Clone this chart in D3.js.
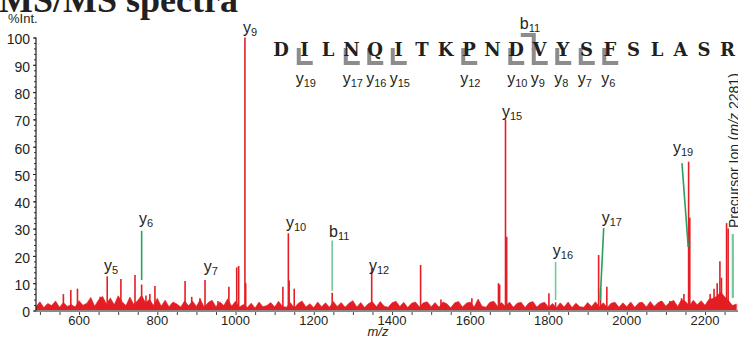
<!DOCTYPE html>
<html lang="en">
<head>
  <meta charset="UTF-8">
  <title>MS/MS spectra</title>
  <script src="https://d3js.org/d3.v7.min.js"></script>
  <style>
    html, body {
      margin: 0;
      padding: 0;
      background: #fff;
      overflow: hidden;
    }
    text {
      font-family: "Liberation Sans", Arial, sans-serif;
      fill: #231f20;
    }
  </style>
</head>
<body>
  <svg id="chart" width="738" height="337"></svg>
  <script>
    // ---- data ----
    const sequence = 'DILNQITKPNDVYSFSLASR'.split('');
    const yIonSites = [19, 17, 16, 15, 12, 10, 9, 8, 7, 6];
    const bIonSites = [11];

    const xTicks = [600, 800, 1000, 1200, 1400, 1600, 1800, 2000, 2200];
    const yTicks = [0, 10, 20, 30, 40, 50, 60, 70, 80, 90, 100];

    // resolved peaks (m/z, % intensity)
    const peakMz = [560, 579, 596, 654, 672, 707, 743, 760, 771, 781, 794, 871, 888, 909, 922, 955,
      983, 1003, 1008, 1024, 1026, 1121, 1135, 1137, 1150, 1247, 1348, 1473, 1525, 1604, 1672, 1675,
      1690, 1693, 1801, 1818, 1928, 1933, 1949, 2034, 2087, 2110, 2140, 2146, 2158, 2161, 2213, 2223,
      2231, 2238, 2242, 2255, 2259, 2272];
    const peakInt = [6, 7.5, 8, 5, 12.5, 11.5, 13, 9.5, 5.5, 6, 9, 10.8, 5, 4.5, 11.2, 3.5,
      8.7, 15.8, 16.3, 100, 10, 8.7, 28.3, 11, 8, 6.5, 15.5, 16.7, 4, 4.5, 10, 9.5,
      70, 27, 6.3, 3, 20.3, 8, 8.7, 3, 3.5, 3.5, 4.5, 6, 54.5, 34, 6, 8,
      10, 18, 12, 32, 30, 2];

    // noise floor, every 10 m/z from 490
    const noiseStart = 490;
    const noiseStep = 10;
    const noiseInt = [
      1.4, 3.2, 1.1, 2.6, 1.8, 3.5, 1.2, 2.9, 1.5, 2.2,
      1.3, 3.6, 1.9, 2.7, 4.8, 1.6, 3.9, 5.2, 2.4, 4.6,
      2.1, 5.4, 3.2, 1.8, 4.9, 2.2, 3.7, 5.6, 2.8, 4.1,
      1.9, 4.5, 1.6, 3.8, 1.4, 3.1, 2.4, 1.3, 3.6, 1.7,
      3.5, 1.5, 4.1, 1.2, 2.9, 3.8, 1.4, 3.2, 1.8, 4.3,
      1.6, 3.4, 1.3, 2.2, 1.1, 2.7, 0.9, 3.1, 1.4, 1.8,
      2.9, 1.3, 3.4, 1.5, 1.2, 2.9, 1, 2.6, 3.5, 1.3,
      2.5, 1.1, 3.1, 1.4, 2.8, 1.2, 3.3, 1.5, 2.9, 1.2,
      2.7, 3.6, 1.3, 2.9, 1.1, 2.6, 3.2, 1.4, 3.3, 1.6,
      1.2, 2.8, 3.4, 1.5, 3, 1.1, 2.7, 3.1, 1.3, 2.8,
      3.2, 1.4, 2.9, 1.2, 3.1, 2.5, 1, 2.8, 3.3, 1.3,
      2.7, 3.1, 1.3, 4.2, 1.6, 1.2, 3, 3.4, 1.5, 2.9,
      1.4, 3.1, 1.2, 2.7, 3, 1.1, 2.8, 3.3, 1.3, 2.6,
      3, 1.2, 2.6, 1, 2.8, 1.3, 3.1, 1.1, 2.7, 1.4,
      1.2, 2.9, 1.5, 3.2, 1.3, 2.8, 1.1, 2.7, 3, 1.2,
      2.8, 1.4, 3.1, 1.2, 2.7, 3, 1.3, 3.3, 1.5, 2.9,
      3.5, 1.6, 3.1, 3.7, 1.5, 4, 3.3, 1.7, 3.8, 2.1,
      3.6, 1.9, 4.1, 4.4, 5.2, 6.8, 5, 3.7, 1.8, 2.4
    ];

    // annotated fragment ions
    const ionNames = ['y5', 'y6', 'y7', 'y9', 'y10', 'b11', 'y12', 'y15', 'y16', 'y17', 'y19'];
    const ionMz = [672, 760, 922, 1024, 1135, 1247, 1348, 1690, 1818, 1933, 2158];
    const precursorMz = 2281;

    // ---- layout ----
    const svg = d3.select('#chart');
    const x = d3.scaleLinear().domain([490, 2285]).range([36, 738.3]);
    const y = d3.scaleLinear().domain([0, 100]).range([310.5, 37.5]);
    const red = '#e31e24';
    const green = '#2c9f5e';
    const lightGreen = '#72c99c';

    // label anchors and callout lines, in data units
    const callouts = {
      y5: {lx: 664, ly: 14.6},
      y6: {lx: 753, ly: 31.7, line: [760, 29.2, 760, 11.2], c: green},
      y7: {lx: 919, ly: 14.1},
      y9: {lx: 1019, ly: 101.6},
      y10: {lx: 1129, ly: 30.2},
      b11: {lx: 1239, ly: 26.9, line: [1247, 25.6, 1247, 7.2], c: lightGreen},
      y12: {lx: 1341, ly: 14.5},
      y15: {lx: 1681, ly: 71},
      y16: {lx: 1811, ly: 20, line: [1818, 17.8, 1818, 3.8], c: lightGreen},
      y17: {lx: 1936, ly: 32, line: [1941, 30.2, 1932, 3.8], c: green},
      y19: {lx: 2118, ly: 57.7, line: [2141, 54, 2157, 23.3], c: green}
    };

    // title (partly cut off at the top)
    svg.append('text')
      .attr('x', -1).attr('y', 11.5)
      .style('font-family', '"Liberation Serif", "Times New Roman", serif')
      .style('font-weight', 'bold')
      .style('font-size', '36px')
      .text('MS/MS spectra');

    svg.append('text')
      .attr('x', 8).attr('y', 23)
      .style('font-size', '13px')
      .text('%Int.');

    // noise floor
    const noise = noiseInt.map((v, i) => [noiseStart + i * noiseStep, v]);
    svg.append('path')
      .datum(noise)
      .attr('fill', red)
      .attr('stroke', red)
      .attr('stroke-width', 0.6)
      .attr('d', d3.area()
        .x(d => x(d[0]))
        .y0(y(0))
        .y1(d => y(d[1]))(noise));

    svg.append('g')
      .selectAll('line')
      .data(noise)
      .join('line')
      .attr('x1', d => x(d[0] + 5)).attr('x2', d => x(d[0] + 5))
      .attr('y1', y(0)).attr('y2', (d, i) => y(Math.min(d[1], (noiseInt[i + 1] || d[1])) * 0.9))
      .attr('stroke', red)
      .attr('stroke-width', 1);

    // peaks
    svg.append('g')
      .selectAll('line')
      .data(peakMz)
      .join('line')
      .attr('x1', d => x(d)).attr('x2', d => x(d))
      .attr('y1', y(0))
      .attr('y2', (d, i) => y(peakInt[i]))
      .attr('stroke', red)
      .attr('stroke-width', 1.6);

    // x baseline and ticks
    svg.append('line')
      .attr('x1', 36).attr('x2', 738)
      .attr('y1', y(0) + 0.5).attr('y2', y(0) + 0.5)
      .attr('stroke', '#8a8a8a')
      .attr('stroke-width', 2.2);

    const xAxis = d3.axisBottom(x)
      .tickValues(d3.range(500, 2285, 50))
      .tickSize(3)
      .tickFormat(() => '');
    svg.append('g')
      .attr('transform', `translate(0,${y(0) + 1.5})`)
      .call(xAxis)
      .call(g => g.select('.domain').remove())
      .call(g => g.selectAll('.tick line').attr('stroke', '#444'));

    svg.append('g')
      .selectAll('text')
      .data(xTicks)
      .join('text')
      .attr('x', d => x(d))
      .attr('y', 324.5)
      .attr('text-anchor', 'middle')
      .style('font-size', '13px')
      .text(d => d);

    svg.append('text')
      .attr('x', 378).attr('y', 335.5)
      .attr('text-anchor', 'middle')
      .style('font-size', '13px')
      .style('font-style', 'italic')
      .text('m/z');

    // y axis
    const yMinor = d3.axisLeft(y)
      .tickValues(d3.range(0, 101, 2))
      .tickSize(2)
      .tickFormat(() => '');
    svg.append('g')
      .attr('transform', 'translate(36,0)')
      .call(yMinor)
      .call(g => g.select('.domain').remove())
      .call(g => g.selectAll('.tick line').attr('stroke', '#333'));

    const yAxis = d3.axisLeft(y)
      .tickValues(yTicks)
      .tickSize(3)
      .tickPadding(3)
      .tickFormat(d3.format('d'));
    svg.append('g')
      .attr('transform', 'translate(36,0)')
      .call(yAxis)
      .call(g => g.select('.domain').attr('d', `M0,${y(100)}V${y(0)}`).attr('stroke', '#222').attr('stroke-width', 1.2))
      .call(g => g.selectAll('.tick line').attr('stroke', '#222'))
      .call(g => g.selectAll('.tick text')
        .attr('dy', '0.45em')
        .style('font-family', '"Liberation Sans", Arial, sans-serif')
        .style('font-size', '14px')
        .attr('fill', '#231f20'));

    // ion labels with subscripts
    function ionText(g, name, px, py) {
      const t = g.append('text').attr('x', px).attr('y', py).style('font-size', '16px');
      t.append('tspan').text(name[0]);
      t.append('tspan').attr('dy', 3).style('font-size', '11px').text(name.slice(1));
      return t;
    }

    const ann = svg.append('g');
    ionNames.forEach((name, i) => {
      const c = callouts[name];
      if (c.line) {
        ann.append('line')
          .attr('x1', x(c.line[0])).attr('y1', y(c.line[1]))
          .attr('x2', x(c.line[2])).attr('y2', y(c.line[3]))
          .attr('stroke', c.c)
          .attr('stroke-width', 1.6);
      }
      ionText(ann, name, x(c.lx), y(c.ly));
    });

    // precursor ion
    ann.append('line')
      .attr('x1', x(2271)).attr('x2', x(2271))
      .attr('y1', y(28)).attr('y2', y(4.6))
      .attr('stroke', lightGreen)
      .attr('stroke-width', 2.2);
    const pre = ann.append('text')
      .attr('transform', `translate(738.5,${y(30.2)}) rotate(-90)`)
      .style('font-size', '14px');
    pre.append('tspan').text('Precursor Ion (');
    pre.append('tspan').style('font-style', 'italic').text('m/z');
    pre.append('tspan').text(` ${precursorMz})`);

    // peptide sequence with fragment brackets
    const sx = d3.scaleLinear().domain([0, sequence.length - 1]).range([281, 727.5]);
    const seq = svg.append('g');
    const cut = n => sx(n - 0.5);   // between residue n-1 and n

    seq.selectAll('path.y')
      .data(yIonSites)
      .join('path')
      .attr('class', 'y')
      .attr('d', n => {
        const cx = cut(sequence.length - n) + 6;
        return `M${cx},48V63H${cx + 14}`;
      })
      .attr('fill', 'none')
      .attr('stroke', '#8c8c8c')
      .attr('stroke-width', 4);

    seq.selectAll('path.b')
      .data(bIonSites)
      .join('path')
      .attr('class', 'b')
      .attr('d', n => {
        const cx = cut(n) + 6;
        return `M${cx - 13},35H${cx}V50`;
      })
      .attr('fill', 'none')
      .attr('stroke', '#8c8c8c')
      .attr('stroke-width', 4);

    seq.selectAll('text.res')
      .data(sequence)
      .join('text')
      .attr('class', 'res')
      .attr('x', (d, i) => sx(i))
      .attr('y', 55.5)
      .attr('text-anchor', 'middle')
      .style('font-family', '"DejaVu Serif", "Courier New", serif')
      .style('font-weight', 'bold')
      .style('font-size', '18px')
      .text(d => d);

    yIonSites.forEach(n => {
      ionText(seq, 'y' + n, cut(sequence.length - n) + 3, 84);
    });
    bIonSites.forEach(n => {
      ionText(seq, 'b' + n, cut(n) - 8, 29);
    });
  </script>
</body>
</html>
